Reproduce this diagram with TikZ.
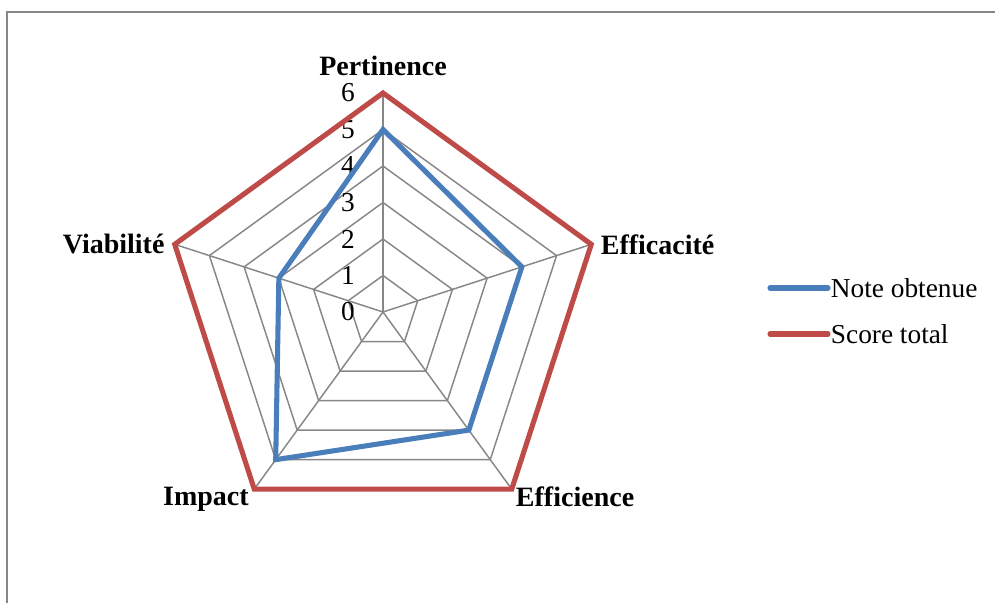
\documentclass[tikz,border=0pt]{standalone}
\usepackage{fontspec}
\setmainfont{Liberation Serif}
\usetikzlibrary{positioning}
\definecolor{noteblue}{HTML}{4A7EBB}
\definecolor{scorered}{HTML}{BE4B48}
\definecolor{gridgray}{HTML}{878787}
\tikzset{gridline/.style={draw=gridgray,line width=1.1pt}}
\tikzset{series/.style={line width=3.8pt,line join=miter}}
\tikzset{axislabel/.style={font=\fontsize{21}{24}\selectfont\bfseries,inner sep=0pt}}
\tikzset{ticklabel/.style={inner sep=0pt,anchor=east}}
\newcommand{\unitr}{36.5}

\begin{document}
\begin{tikzpicture}[
x = 0.75pt, y = 0.75pt, % one pixel of the chart
font = \fontsize{20.5}{24}\selectfont
]
\useasboundingbox (-383,-291) rectangle (612,312);

% chart frame
\draw[gridgray,line width=1.5pt] (-376,-291) -- (-376,300) -- (612,300);

\coordinate (c) at (0,0);

% rings and spokes
\foreach \r in {1,...,6}
  \draw[gridline] (90:{\r*\unitr}) -- (18:{\r*\unitr}) -- (-54:{\r*\unitr})
    -- (-126:{\r*\unitr}) -- (162:{\r*\unitr}) -- cycle;
\foreach \a/\n in {90/per,18/eff,-54/efc,-126/imp,162/via} {
  \coordinate (\n) at (\a:{6*\unitr});
  \draw[gridline] (c) -- (\n);
}

% tick values
\foreach \r in {0,...,6}
  \node[ticklabel] (t\r) at (-28,{\r*\unitr}) {\r};

% axis names
\node[axislabel] (lper) [above=13pt of per] {Pertinence};
\node[axislabel] (leff) [right=7pt of eff] {Efficacité};
\node[axislabel] (lefc) [below right=-2pt and 3pt of efc] {Efficience};
\node[axislabel] (limp) [below left=-2pt and 4pt of imp] {Impact};
\node[axislabel] (lvia) [left=7.5pt of via] {Viabilité};

% series
\foreach \a/\v [count=\i] in {90/5,18/4,-54/4,-126/5,162/3}
  \coordinate (n\i) at (\a:{\v*\unitr});
\draw[series,scorered] (per) -- (eff) -- (efc) -- (imp) -- (via) -- cycle;
\draw[series,noteblue] (n1) -- (n2) -- (n3) -- (n4) -- (n5) -- cycle;

% legend
\coordinate (b1) at (387,24);
\coordinate (b2) at (445,24);
\coordinate (r1) at (387,-22);
\coordinate (r2) at (445,-22);
\draw[series,noteblue,line cap=round] (b1) -- (b2);
\draw[series,scorered,line cap=round] (r1) -- (r2);
\node[inner sep=0pt,anchor=west] (lnote) [right=2pt of b2] {Note obtenue};
\node[inner sep=0pt,anchor=west] (lscore) [right=2pt of r2] {Score total};
\end{tikzpicture}
\end{document}
